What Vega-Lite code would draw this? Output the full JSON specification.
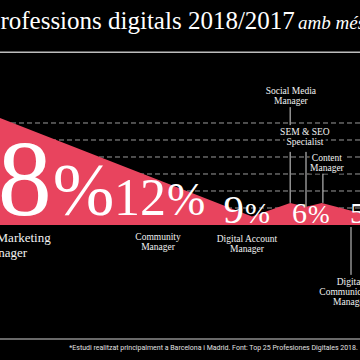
{
  "$schema": "https://vega.github.io/schema/vega-lite/v6.json",
  "width": 360,
  "height": 360,
  "autosize": {"type": "none"},
  "padding": 0,
  "background": "#000000",
  "config": {"view": {"stroke": null}},
  "resolve": {"scale": {"size": "independent", "color": "independent"}},
  "datasets": {
    "shape": [
      {"pos": 0, "share": 18.9},
      {"pos": 70, "share": 1.5},
      {"pos": 80.6, "share": 3.9},
      {"pos": 85, "share": 3.2},
      {"pos": 89.4, "share": 3.9},
      {"pos": 100, "share": 2.1}
    ],
    "grid": [{"level": 3}, {"level": 6}, {"level": 9}, {"level": 12}, {"level": 15}, {"level": 18}],
    "pcts": [
      {"pct": 18, "pos": 14.4, "base": 1.8},
      {"pct": 12, "pos": 46.1, "base": 1.8},
      {"pct": 9, "pos": 67.8, "base": 0.35},
      {"pct": 6, "pos": 85.3, "base": 0.35},
      {"pct": 5, "pos": 101.4, "base": 0.35}
    ],
    "labels": [
      {"job": "Digital Marketing\nManager", "pct": 18, "pos": 1.1, "base": -3.0},
      {"job": "Community\nManager", "pct": 12, "pos": 43.9, "base": -2.65},
      {"job": "Digital Account\nManager", "pct": 9, "pos": 68.6, "base": -3.0},
      {"job": "Social Media\nManager", "pct": 6, "pos": 80.8, "base": 23.1},
      {"job": "SEM & SEO\nSpecialist", "pct": 6, "pos": 84.7, "base": 15.9},
      {"job": "Content\nManager", "pct": 6, "pos": 90.8, "base": 11.3},
      {"job": "Digital\nCommunication\nManager", "pct": 5, "pos": 97.2, "base": -10.6}
    ],
    "leaders": [
      {"pos": 80.6, "from": 3.9, "to": 12.9},
      {"pos": 80.6, "from": 17.6, "to": 20.8},
      {"pos": 85, "from": 3.2, "to": 12.9},
      {"pos": 89.7, "from": 3.9, "to": 9.2},
      {"pos": 97.5, "from": -0.35, "to": -8.8}
    ]
  },
  "layer": [
    {
      "data": {"name": "grid"},
      "mark": {"type": "rule", "color": "#9a9a9a", "strokeWidth": 1, "strokeDash": [5, 3]},
      "encoding": {
        "y": {"field": "level", "type": "quantitative", "axis": null, "scale": {"domain": [-23.824, 39.706], "nice": false, "zero": false}}
      }
    },
    {
      "data": {"name": "shape"},
      "mark": {"type": "area", "color": "#E8445E", "interpolate": "linear"},
      "encoding": {
        "x": {"field": "pos", "type": "quantitative", "axis": null, "scale": {"domain": [0, 100], "nice": false, "zero": false}},
        "y": {"field": "share", "type": "quantitative", "axis": null, "scale": {"domain": [-23.824, 39.706], "nice": false, "zero": false}},
        "y2": {"datum": 0}
      }
    },
    {
      "data": {"name": "leaders"},
      "mark": {"type": "rule", "color": "#d8d8d8", "strokeWidth": 1},
      "encoding": {
        "x": {"field": "pos", "type": "quantitative", "axis": null, "scale": {"domain": [0, 100], "nice": false, "zero": false}},
        "y": {"field": "from", "type": "quantitative", "axis": null, "scale": {"domain": [-23.824, 39.706], "nice": false, "zero": false}},
        "y2": {"field": "to"}
      }
    },
    {
      "data": {"name": "pcts"},
      "mark": {"type": "text", "align": "right", "baseline": "alphabetic", "font": "Liberation Serif", "color": "#ffffff"},
      "encoding": {
        "x": {"field": "pos", "type": "quantitative", "axis": null, "scale": {"domain": [0, 100], "nice": false, "zero": false}},
        "y": {"field": "base", "type": "quantitative", "axis": null, "scale": {"domain": [-23.824, 39.706], "nice": false, "zero": false}},
        "text": {"field": "pct", "type": "quantitative"},
        "size": {"field": "pct", "type": "quantitative", "legend": null, "scale": {"domain": [5, 6, 9, 12, 18], "range": [30, 30, 41, 52, 108]}}
      }
    },
    {
      "data": {"name": "pcts"},
      "mark": {"type": "text", "align": "left", "baseline": "alphabetic", "font": "Liberation Serif", "color": "#ffffff", "text": "%", "dx": 1},
      "encoding": {
        "x": {"field": "pos", "type": "quantitative", "axis": null, "scale": {"domain": [0, 100], "nice": false, "zero": false}},
        "y": {"field": "base", "type": "quantitative", "axis": null, "scale": {"domain": [-23.824, 39.706], "nice": false, "zero": false}},
        "size": {"field": "pct", "type": "quantitative", "legend": null, "scale": {"domain": [5, 6, 9, 12, 18], "range": [26, 26, 30, 46, 74]}}
      }
    },
    {
      "data": {"name": "labels"},
      "transform": [{"filter": "datum.pct < 18"}],
      "mark": {"type": "text", "align": "center", "baseline": "alphabetic", "font": "Liberation Serif", "fontSize": 9.5, "lineHeight": 10, "lineBreak": "\n", "color": "#000000", "stroke": "#000000", "strokeWidth": 5, "strokeJoin": "round"},
      "encoding": {
        "x": {"field": "pos", "type": "quantitative", "axis": null, "scale": {"domain": [0, 100], "nice": false, "zero": false}},
        "y": {"field": "base", "type": "quantitative", "axis": null, "scale": {"domain": [-23.824, 39.706], "nice": false, "zero": false}},
        "text": {"field": "job", "type": "nominal"}
      }
    },
    {
      "data": {"name": "labels"},
      "transform": [{"filter": "datum.pct < 18"}],
      "mark": {"type": "text", "align": "center", "baseline": "alphabetic", "font": "Liberation Serif", "fontSize": 9.5, "lineHeight": 10, "lineBreak": "\n", "color": "#f2f2f2"},
      "encoding": {
        "x": {"field": "pos", "type": "quantitative", "axis": null, "scale": {"domain": [0, 100], "nice": false, "zero": false}},
        "y": {"field": "base", "type": "quantitative", "axis": null, "scale": {"domain": [-23.824, 39.706], "nice": false, "zero": false}},
        "text": {"field": "job", "type": "nominal"}
      }
    },
    {
      "data": {"name": "labels"},
      "transform": [{"filter": "datum.pct >= 18"}],
      "mark": {"type": "text", "align": "center", "baseline": "alphabetic", "font": "Liberation Serif", "fontSize": 13, "lineHeight": 15, "lineBreak": "\n", "color": "#f2f2f2"},
      "encoding": {
        "x": {"field": "pos", "type": "quantitative", "axis": null, "scale": {"domain": [0, 100], "nice": false, "zero": false}},
        "y": {"field": "base", "type": "quantitative", "axis": null, "scale": {"domain": [-23.824, 39.706], "nice": false, "zero": false}},
        "text": {"field": "job", "type": "nominal"}
      }
    },
    {
      "data": {"values": [{"t": "Professions digitals 2018/2017"}]},
      "mark": {"type": "text", "align": "right", "baseline": "alphabetic", "font": "Liberation Serif", "fontSize": 25, "color": "#ffffff"},
      "encoding": {
        "x": {"datum": 81.9, "type": "quantitative", "axis": null, "scale": {"domain": [0, 100], "nice": false, "zero": false}},
        "y": {"datum": 34.6, "type": "quantitative", "axis": null, "scale": {"domain": [-23.824, 39.706], "nice": false, "zero": false}},
        "text": {"field": "t", "type": "nominal"}
      }
    },
    {
      "data": {"values": [{"t": "amb més demanda*"}]},
      "mark": {"type": "text", "align": "left", "baseline": "alphabetic", "font": "Liberation Serif", "fontStyle": "italic", "fontSize": 19, "color": "#ffffff"},
      "encoding": {
        "x": {"datum": 82.8, "type": "quantitative", "axis": null, "scale": {"domain": [0, 100], "nice": false, "zero": false}},
        "y": {"datum": 34.6, "type": "quantitative", "axis": null, "scale": {"domain": [-23.824, 39.706], "nice": false, "zero": false}},
        "text": {"field": "t", "type": "nominal"}
      }
    },
    {
      "data": {"values": [{"y": 30.5, "c": "top"}, {"y": -20.1, "c": "bottom"}]},
      "mark": {"type": "rule", "strokeWidth": 1.5},
      "encoding": {
        "y": {"field": "y", "type": "quantitative", "axis": null, "scale": {"domain": [-23.824, 39.706], "nice": false, "zero": false}},
        "color": {"field": "c", "type": "nominal", "legend": null, "scale": {"domain": ["top", "bottom"], "range": ["#bdbdbd", "#8c8c8c"]}}
      }
    },
    {
      "data": {"values": [{"t": "*Estudi realitzat principalment a Barcelona i Madrid. Font: Top 25 Profesiones Digitales 2018."}]},
      "mark": {"type": "text", "align": "right", "baseline": "alphabetic", "font": "Roboto", "fontSize": 7, "color": "#e0e0e0"},
      "encoding": {
        "x": {"datum": 99.4, "type": "quantitative", "axis": null, "scale": {"domain": [0, 100], "nice": false, "zero": false}},
        "y": {"datum": -22.06, "type": "quantitative", "axis": null, "scale": {"domain": [-23.824, 39.706], "nice": false, "zero": false}},
        "text": {"field": "t", "type": "nominal"}
      }
    }
  ]
}
